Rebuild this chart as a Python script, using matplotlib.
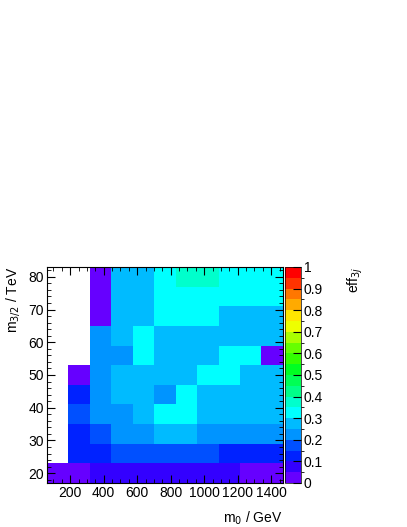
import numpy as np
import matplotlib
matplotlib.use('Agg')
import matplotlib.pyplot as plt
from matplotlib.colors import ListedColormap, BoundaryNorm
from matplotlib.ticker import MultipleLocator

plt.rcParams['font.family'] = ['Liberation Sans', 'DejaVu Sans']

# bin edges (m0 in GeV, m3/2 in TeV)
m0_edges = [62, 190, 318, 446, 574, 702, 830, 958, 1086, 1214, 1342, 1470]
m32_edges = [17, 23, 29, 35, 41, 47, 53, 59, 65, 71, 77, 83]

nan = np.nan
# efficiency per bin, rows from bottom (m3/2 = 20) to top (m3/2 = 80)
eff_3j = [
    [0.03, 0.03, 0.08, 0.08, 0.08, 0.08, 0.08, 0.08, 0.08, 0.03, 0.03],
    [nan, 0.12, 0.12, 0.17, 0.17, 0.17, 0.17, 0.17, 0.12, 0.12, 0.12],
    [nan, 0.12, 0.17, 0.22, 0.22, 0.27, 0.27, 0.22, 0.22, 0.22, 0.22],
    [nan, 0.17, 0.22, 0.22, 0.27, 0.32, 0.32, 0.27, 0.27, 0.27, 0.27],
    [nan, 0.12, 0.22, 0.27, 0.27, 0.22, 0.32, 0.27, 0.27, 0.27, 0.27],
    [nan, 0.03, 0.22, 0.27, 0.27, 0.27, 0.27, 0.32, 0.32, 0.27, 0.27],
    [nan, nan, 0.22, 0.21, 0.32, 0.27, 0.27, 0.27, 0.32, 0.32, 0.03],
    [nan, nan, 0.22, 0.27, 0.32, 0.27, 0.27, 0.27, 0.27, 0.27, 0.27],
    [nan, nan, 0.03, 0.27, 0.27, 0.32, 0.32, 0.32, 0.27, 0.27, 0.27],
    [nan, nan, 0.03, 0.27, 0.27, 0.32, 0.32, 0.32, 0.32, 0.32, 0.32],
    [nan, nan, 0.03, 0.27, 0.27, 0.32, 0.37, 0.37, 0.32, 0.32, 0.32],
]

# ROOT-like rainbow palette, 20 contour levels
palette = ['#6600ff', '#3300ff', '#0022ff', '#0050ff', '#0094ff',
           '#00bbff', '#00ffff', '#00ffcc', '#00ff88', '#00ff55',
           '#00ff22', '#33ff00', '#66ff00', '#aaff00', '#eeff00',
           '#ffe600', '#ffaa00', '#ff7700', '#ff3300', '#ff0000']
levels = np.linspace(0, 1, 21)

cmap = ListedColormap(palette)
norm = BoundaryNorm(levels, cmap.N)

fs = 10

fig = plt.figure(figsize=(4.07, 5.27), dpi=100)
ax = fig.add_axes([0.1155, 0.0835, 0.5795, 0.4099])
cax = fig.add_axes([0.6995, 0.0835, 0.0405, 0.4099])

z = np.ma.masked_invalid(np.array(eff_3j))
mesh = ax.pcolormesh(m0_edges, m32_edges, z, cmap=cmap, norm=norm)

ax.set_xlim(m0_edges[0], m0_edges[-1])
ax.set_ylim(m32_edges[0], m32_edges[-1])
ax.xaxis.set_major_locator(MultipleLocator(200))
ax.xaxis.set_minor_locator(MultipleLocator(50))
ax.yaxis.set_major_locator(MultipleLocator(10))
ax.yaxis.set_minor_locator(MultipleLocator(2))
ax.tick_params(which='both', direction='in', top=True, right=True,
               labelsize=fs, pad=2)
ax.tick_params(which='major', length=6)
ax.tick_params(which='minor', length=3)

ax.set_xlabel('m$_0$ / GeV', fontsize=fs, loc='right', labelpad=7)
ax.set_ylabel('m$_{3/2}$ / TeV', fontsize=fs, loc='top', labelpad=5)

cb = fig.colorbar(mesh, cax=cax, ticks=np.arange(0, 1.01, 0.1))
cb.ax.set_yticklabels(['0', '0.1', '0.2', '0.3', '0.4', '0.5',
                       '0.6', '0.7', '0.8', '0.9', '1'])
cb.ax.tick_params(direction='in', length=6, labelsize=fs, pad=2)
cb.outline.set_linewidth(0.5)
cb.set_label('eff$_{3j}$', fontsize=fs, loc='top', labelpad=16)

fig.savefig('out.png', dpi=100)
